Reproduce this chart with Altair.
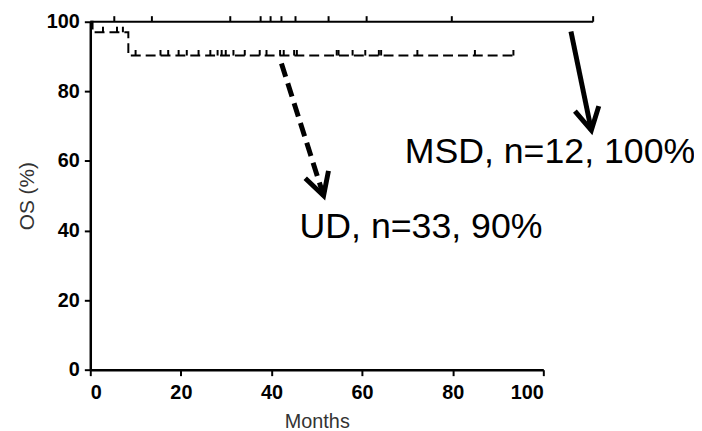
import altair as alt
import pandas as pd

# ---- data ----
# MSD arm: n=12, no events, censor marks (months)
msd_n = 12
msd_censor = [5.3, 13.6, 30.9, 37.6, 39.8, 42.2, 45.3, 52.6, 61.0, 79.8, 111.0]

# UD arm: n=33, event times and censor marks (months)
ud_n = 33
ud_events = [0.5, 8.4, 8.4]
ud_censor = [2.8, 5.9, 7.2, 10.0, 15.5, 17.2, 19.5, 21.3, 23.9, 26.5, 28.1, 29.0,
             29.9, 31.6, 34.1, 37.4, 38.9, 41.9, 42.7, 45.0, 45.6, 54.4, 54.8,
             57.9, 60.7, 63.7, 64.2, 72.2, 84.9, 93.4]

# annotations (data units: months, %)
labels = ["MSD, n=12, 100%", "UD, n=33, 90%"]
label_x = [69.4, 46.2]
label_y = [59.3, 37.9]
arrow_x = [106.1, 42.2]
arrow_y = [97.2, 88.0]
arrow_x2 = [110.6, 51.5]
arrow_y2 = [68.8, 50.0]
arrow_angle = [348.3, 342.3]
arrow_dash = ["solid", "dashed"]


def km(n, events, censor):
    times = sorted(set(events + censor))
    at_risk = n
    s = 100.0
    pts = [(0.0, 100.0)]
    cens_pts = []
    for t in times:
        d = events.count(t)
        c = censor.count(t)
        if d:
            s = s * (at_risk - d) / at_risk
            pts.append((t, s))
        for _ in range(c):
            cens_pts.append((t, s))
        at_risk -= d + c
    last = max(events + censor)
    pts.append((last, s))
    return pts, cens_pts


msd_pts, msd_cens = km(msd_n, [], msd_censor)
ud_pts, ud_cens = km(ud_n, ud_events, ud_censor)

curve = pd.DataFrame(
    [{"t": t, "s": s, "g": "MSD"} for t, s in msd_pts]
    + [{"t": t, "s": s, "g": "UD"} for t, s in ud_pts]
)
cens = pd.DataFrame(
    [{"t": t, "s": s, "g": "MSD"} for t, s in msd_cens]
    + [{"t": t, "s": s, "g": "UD"} for t, s in ud_cens]
)
ann = pd.DataFrame({"label": labels, "lx": label_x, "ly": label_y,
                    "ax": arrow_x, "ay": arrow_y, "ax2": arrow_x2, "ay2": arrow_y2,
                    "ang": arrow_angle, "dash": arrow_dash})

FONT = "Liberation Sans"
xs = alt.Scale(domain=[0, 100], nice=False)
ys = alt.Scale(domain=[0, 100], nice=False)

xaxis = alt.Axis(values=[0, 20, 40, 60, 80, 100], title="Months", grid=False,
                 labelFont=FONT, labelFontSize=20, labelFontWeight="bold", labelColor="black",
                 labelPadding=7, tickSize=6, tickWidth=2, tickColor="black",
                 domainColor="black", domainWidth=2.5,
                 titleFont=FONT, titleFontSize=20, titleFontWeight="normal",
                 titleColor="#333", titlePadding=9)
yaxis = alt.Axis(values=[0, 20, 40, 60, 80, 100], title="OS (%)", grid=False,
                 labelFont=FONT, labelFontSize=20, labelFontWeight="bold", labelColor="black",
                 labelPadding=5, tickSize=6, tickWidth=2, tickColor="black",
                 domainColor="black", domainWidth=2.5,
                 titleFont=FONT, titleFontSize=21, titleFontWeight="normal",
                 titleColor="#333", titlePadding=9)

base_curve = alt.Chart(curve)
msd_line = base_curve.transform_filter(alt.datum.g == "MSD").mark_line(
    interpolate="step-after", color="black", strokeWidth=2
).encode(x=alt.X("t:Q", scale=xs, axis=xaxis), y=alt.Y("s:Q", scale=ys, axis=yaxis))
ud_line = base_curve.transform_filter(alt.datum.g == "UD").mark_line(
    interpolate="step-after", color="black", strokeWidth=2, strokeDash=[10, 5]
).encode(x=alt.X("t:Q", scale=xs), y=alt.Y("s:Q", scale=ys))

ticks = alt.Chart(cens).transform_calculate(s2="datum.s + 1.6").mark_rule(
    color="black", strokeWidth=2
).encode(x=alt.X("t:Q", scale=xs), y=alt.Y("s:Q", scale=ys), y2="s2:Q")

texts = alt.Chart(ann).mark_text(
    align="left", baseline="alphabetic", font=FONT, fontSize=36, color="black"
).encode(x=alt.X("lx:Q", scale=xs), y=alt.Y("ly:Q", scale=ys), text="label:N")

solid_shaft = alt.Chart(ann).transform_filter(alt.datum.dash == "solid").mark_rule(
    color="black", strokeWidth=5
).encode(x=alt.X("ax:Q", scale=xs), y=alt.Y("ay:Q", scale=ys), x2="ax2:Q", y2="ay2:Q")
dashed_shaft = alt.Chart(ann).transform_filter(alt.datum.dash == "dashed").mark_rule(
    color="black", strokeWidth=5, strokeDash=[14, 7]
).encode(x=alt.X("ax:Q", scale=xs), y=alt.Y("ay:Q", scale=ys), x2="ax2:Q", y2="ay2:Q")
heads = alt.Chart(ann).mark_point(
    shape="M -0.55 -1 L 0 0 L 0.55 -1", size=2000, filled=False,
    stroke="black", strokeWidth=5, opacity=1
).encode(x=alt.X("ax2:Q", scale=xs), y=alt.Y("ay2:Q", scale=ys),
         angle=alt.Angle("ang:Q", scale=None))

chart = alt.layer(msd_line, ud_line, ticks, solid_shaft, dashed_shaft, heads, texts).properties(
    width=457, height=351,
    autosize=alt.AutoSizeParams(type="none"),
    padding={"left": 83, "top": 12, "right": 152, "bottom": 62},
    background="white",
).configure_view(stroke=None)

chart.save("out.html", embed_options={"renderer": "svg", "actions": False})
